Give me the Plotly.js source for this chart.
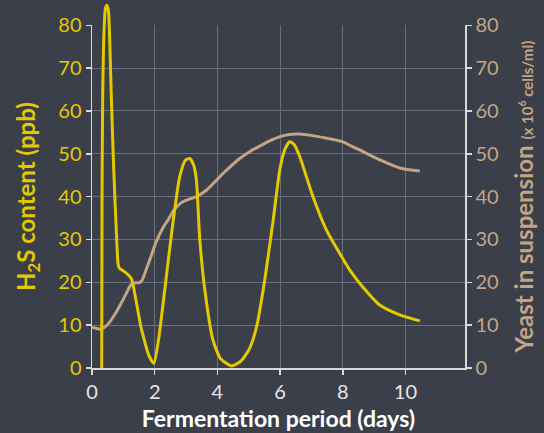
<!DOCTYPE html>
<html>
<head>
<meta charset="utf-8">
<script src="https://cdn.plot.ly/plotly-3.0.1.min.js"></script>
<style>html,body{margin:0;padding:0;background:#3a3f4a;}</style>
</head>
<body>
<div id="chart" style="width:544px;height:433px;"></div>
<script>
// H2S content (ppb) vs fermentation day
const h2sDays = [0.31, 0.32, 0.34, 0.38, 0.43, 0.48, 0.53, 0.56, 0.62, 0.69, 0.74, 0.78, 0.83, 0.87, 0.95, 1.03, 1.12, 1.19, 1.26, 1.31, 1.36, 1.41, 1.48, 1.56, 1.67, 1.80, 1.97, 2.12, 2.32, 2.58, 2.80, 2.98, 3.12, 3.25, 3.33, 3.44, 3.60, 3.86, 4.10, 4.45, 4.75, 5.03, 5.25, 5.51, 5.78, 5.99, 6.15, 6.31, 6.45, 6.63, 7.05, 7.48, 7.90, 8.22, 8.54, 9.18, 9.82, 10.46];
const h2sPpb  = [0.0, 40.0, 62.0, 78.0, 84.0, 84.7, 83.0, 78.0, 62.5, 47.0, 38.0, 31.4, 24.4, 23.3, 22.9, 22.5, 22.0, 21.5, 20.8, 19.5, 17.5, 15.5, 12.8, 9.6, 6.5, 3.2, 1.1, 6.5, 18.2, 33.8, 44.7, 48.5, 48.9, 47.2, 43.9, 29.9, 18.2, 6.5, 2.2, 0.5, 1.6, 4.6, 9.6, 20.5, 34.5, 46.2, 51.0, 52.8, 52.2, 49.3, 40.0, 32.2, 26.8, 22.9, 19.8, 14.7, 12.4, 11.0];

// Yeast in suspension (x 10^6 cells/ml) vs fermentation day
const yeastDays  = [0.0, 0.15, 0.29, 0.45, 0.61, 0.77, 0.93, 1.10, 1.24, 1.33, 1.40, 1.51, 1.60, 1.72, 1.88, 2.05, 2.27, 2.42, 2.58, 2.74, 2.90, 3.10, 3.33, 3.65, 4.18, 4.71, 5.03, 5.35, 5.67, 6.00, 6.30, 6.60, 7.00, 7.50, 8.00, 8.22, 8.54, 9.18, 9.82, 10.46];
const yeastCells = [9.5, 9.2, 9.1, 9.8, 11.2, 13.0, 15.1, 17.5, 19.4, 19.8, 19.9, 19.9, 20.5, 22.8, 26.0, 29.5, 32.8, 34.5, 36.5, 37.9, 38.8, 39.4, 40.0, 41.5, 45.4, 48.9, 50.5, 51.8, 53.0, 54.0, 54.5, 54.6, 54.3, 53.6, 52.8, 52.0, 50.9, 48.6, 46.7, 46.0];

const xTicks = [0, 2, 4, 6, 8, 10];
const yTicks = [0, 10, 20, 30, 40, 50, 60, 70, 80];

const BG = '#3a3f4a';
const GRID = '#6a6f79';
const AXIS = '#d9d9d9';
const YEL = '#e4c900';
const TAN = '#c3a583';
const FONT = 'Lato, "Open Sans", sans-serif';

const plotH = 433 - 3 - 65;
const dom = 342.7 / plotH;

const traces = [
  {
    x: yeastDays, y: yeastCells, type: 'scatter', mode: 'lines',
    xaxis: 'x', yaxis: 'y',
    line: {color: TAN, width: 3, shape: 'spline', smoothing: 0.8},
    hoverinfo: 'skip'
  },
  {
    // carrier for the right-hand axis (same yeast values, not drawn)
    x: yeastDays, y: yeastCells, type: 'scatter', mode: 'lines',
    xaxis: 'x', yaxis: 'y2', opacity: 0,
    line: {color: TAN, width: 0},
    hoverinfo: 'skip'
  },
  {
    x: h2sDays, y: h2sPpb, type: 'scatter', mode: 'lines',
    xaxis: 'x2', yaxis: 'y3',
    line: {color: YEL, width: 3, shape: 'spline', smoothing: 0.6},
    hoverinfo: 'skip'
  }
];

const layout = {
  width: 544, height: 433,
  paper_bgcolor: BG, plot_bgcolor: 'rgba(0,0,0,0)',
  margin: {l: 92, r: 79, t: 3, b: 65, pad: 0},
  showlegend: false,
  font: {family: FONT},
  xaxis: {
    domain: [0, 1], range: [0, 11.9], anchor: 'y',
    tickvals: xTicks, ticktext: xTicks.map(String),
    showgrid: true, gridcolor: GRID, gridwidth: 1,
    showline: true, linecolor: AXIS, linewidth: 1.5,
    ticks: 'outside', ticklen: 5, tickcolor: AXIS, tickwidth: 1.5,
    zeroline: false,
    tickfont: {color: '#e6e6e6', size: 20, family: FONT},
    title: {text: 'Fermentation period (days)', font: {color: '#ffffff', size: 23, family: FONT, weight: 'bold'}, standoff: 9}
  },
  yaxis: {
    domain: [0, dom], range: [0, 80], anchor: 'x',
    tickvals: yTicks, ticktext: yTicks.map(String),
    showgrid: true, gridcolor: GRID, gridwidth: 1,
    showline: true, linecolor: AXIS, linewidth: 1.5,
    ticks: 'outside', ticklen: 5, tickcolor: AXIS, tickwidth: 1.5,
    zeroline: false,
    tickfont: {color: YEL, size: 20, family: FONT},
    title: {text: 'H<sub>2</sub>S content (ppb)', font: {color: YEL, size: 24, family: FONT, weight: 'bold'}, standoff: 16}
  },
  yaxis2: {
    overlaying: 'y', side: 'right', range: [0, 80], anchor: 'x',
    tickvals: yTicks, ticktext: yTicks.map(String),
    showgrid: false, zeroline: false,
    showline: true, linecolor: AXIS, linewidth: 1.5,
    ticks: 'outside', ticklen: 5, tickcolor: AXIS, tickwidth: 1.5,
    tickfont: {color: TAN, size: 20, family: FONT},
    title: {text: 'Yeast in suspension <span style="font-size:15px">(x 10<sup>6</sup> cells/ml)</span>', font: {color: TAN, size: 24, family: FONT, weight: 'bold'}, standoff: 18}
  },
  xaxis2: {
    domain: [0, 1], range: [0, 11.9], anchor: 'y3', visible: false,
    showgrid: false, zeroline: false
  },
  yaxis3: {
    domain: [0, 1], range: [0, 80 / dom], anchor: 'x2', visible: false,
    showgrid: false, zeroline: false
  }
};

Plotly.newPlot('chart', traces, layout, {displayModeBar: false, staticPlot: true});
</script>
</body>
</html>
